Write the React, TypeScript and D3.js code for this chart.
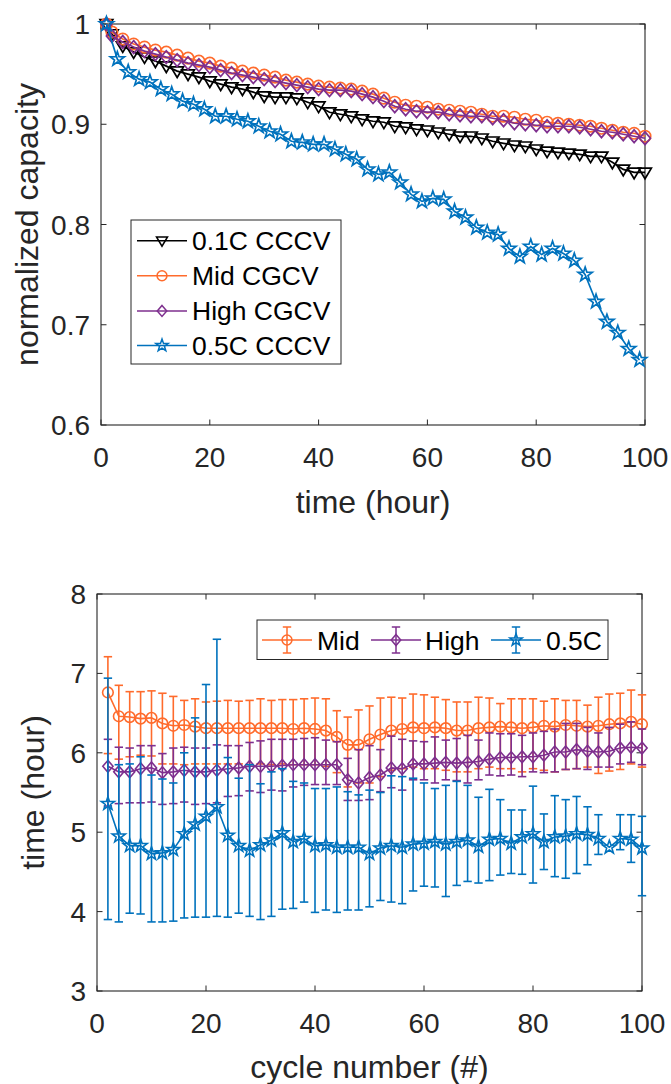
import React from 'react';
import * as d3 from 'd3';

// ---------------- Top chart data ----------------
const hoursA = [1, 2, 4, 6, 8, 10, 12, 14, 16, 18, 20, 22, 24, 26, 28, 30, 32, 34, 36, 38, 40, 42, 44, 46, 48, 50,
  52, 54, 56, 58, 60, 62, 64, 66, 68, 70, 72, 74, 76, 78, 80, 82, 84, 86, 88, 90, 92, 94, 96, 98, 100];
const cap01C = [1.0, 0.990, 0.978, 0.972, 0.967, 0.963, 0.958, 0.953, 0.950, 0.947, 0.943, 0.940, 0.937, 0.935, 0.932,
  0.928, 0.927, 0.927, 0.926, 0.922, 0.918, 0.912, 0.910, 0.908, 0.905, 0.903, 0.902, 0.898, 0.897, 0.895, 0.894,
  0.892, 0.890, 0.888, 0.888, 0.886, 0.883, 0.881, 0.879, 0.878, 0.875, 0.873, 0.872, 0.871, 0.870, 0.868, 0.868,
  0.862, 0.855, 0.852, 0.852];
const capMid = [1.0, 0.992, 0.985, 0.980, 0.977, 0.974, 0.972, 0.969, 0.966, 0.963, 0.961, 0.958, 0.956, 0.953, 0.951,
  0.949, 0.947, 0.944, 0.942, 0.940, 0.938, 0.937, 0.936, 0.935, 0.933, 0.930, 0.926, 0.922, 0.919, 0.918, 0.917,
  0.915, 0.914, 0.913, 0.912, 0.910, 0.908, 0.908, 0.907, 0.905, 0.904, 0.902, 0.901, 0.900, 0.899, 0.898, 0.896,
  0.894, 0.892, 0.891, 0.888];
const capHigh = [1.0, 0.988, 0.982, 0.977, 0.973, 0.970, 0.967, 0.964, 0.961, 0.959, 0.957, 0.954, 0.951, 0.949, 0.947,
  0.945, 0.943, 0.941, 0.939, 0.937, 0.935, 0.934, 0.934, 0.933, 0.930, 0.927, 0.923, 0.918, 0.915, 0.913, 0.912,
  0.912, 0.910, 0.909, 0.908, 0.908, 0.906, 0.904, 0.901, 0.900, 0.899, 0.898, 0.898, 0.898, 0.897, 0.895, 0.893,
  0.892, 0.890, 0.888, 0.886];
const hoursB = [1, 3, 5, 7, 9, 11, 13, 15, 17, 19, 21, 23, 25, 27, 29, 31, 33, 35, 37, 39, 41, 43, 45, 47, 49,
  51, 53, 55, 57, 59, 61, 63, 65, 67, 69, 71, 73, 75, 77, 79, 81, 83, 85, 87, 89, 91, 93, 95, 97, 99];
const cap05C = [1.0, 0.965, 0.952, 0.945, 0.942, 0.935, 0.930, 0.923, 0.920, 0.915, 0.908, 0.908, 0.905, 0.903, 0.898,
  0.893, 0.890, 0.883, 0.882, 0.880, 0.880, 0.875, 0.870, 0.865, 0.855, 0.850, 0.852, 0.842, 0.830, 0.823, 0.826,
  0.825, 0.813, 0.807, 0.797, 0.792, 0.790, 0.776, 0.768, 0.778, 0.770, 0.776, 0.771, 0.764, 0.750, 0.723, 0.703,
  0.692, 0.676, 0.665];
const topYTicks = [0.6, 0.7, 0.8, 0.9, 1];
const xTicks = [0, 20, 40, 60, 80, 100];
const topLegend = ['0.1C CCCV', 'Mid CGCV', 'High CGCV', '0.5C CCCV'];

// ---------------- Bottom chart data ----------------
const cycles = [2, 4, 6, 8, 10, 12, 14, 16, 18, 20, 22, 24, 26, 28, 30, 32, 34, 36, 38, 40, 42, 44, 46, 48, 50,
  52, 54, 56, 58, 60, 62, 64, 66, 68, 70, 72, 74, 76, 78, 80, 82, 84, 86, 88, 90, 92, 94, 96, 98, 100];
const midMean = [6.76, 6.46, 6.45, 6.43, 6.44, 6.37, 6.34, 6.35, 6.33, 6.31, 6.31, 6.31, 6.31, 6.31, 6.31, 6.31, 6.31,
  6.30, 6.31, 6.30, 6.28, 6.20, 6.10, 6.10, 6.17, 6.23, 6.28, 6.30, 6.32, 6.31, 6.32, 6.31, 6.28, 6.28, 6.31, 6.32,
  6.33, 6.32, 6.31, 6.32, 6.34, 6.33, 6.35, 6.34, 6.33, 6.34, 6.36, 6.37, 6.39, 6.36];
const midUpper = [7.21, 6.85, 6.77, 6.77, 6.78, 6.75, 6.71, 6.66, 6.68, 6.64, 6.65, 6.66, 6.65, 6.66, 6.68, 6.66, 6.67,
  6.67, 6.68, 6.69, 6.68, 6.53, 6.45, 6.54, 6.59, 6.69, 6.70, 6.69, 6.74, 6.73, 6.70, 6.67, 6.64, 6.64, 6.70, 6.69,
  6.62, 6.68, 6.68, 6.68, 6.65, 6.68, 6.66, 6.66, 6.60, 6.70, 6.74, 6.75, 6.79, 6.73];
const midLower = [5.99, 5.92, 5.95, 5.97, 5.96, 5.86, 5.86, 5.85, 5.86, 5.86, 5.86, 5.86, 5.86, 5.85, 5.86, 5.85, 5.86,
  5.85, 5.85, 5.85, 5.83, 5.75, 5.57, 5.62, 5.62, 5.70, 5.78, 5.80, 5.82, 5.80, 5.80, 5.78, 5.76, 5.76, 5.80, 5.82,
  5.80, 5.80, 5.76, 5.80, 5.78, 5.76, 5.79, 5.80, 5.82, 5.74, 5.77, 5.79, 5.86, 5.82];
const highMean = [5.83, 5.76, 5.76, 5.80, 5.81, 5.75, 5.76, 5.78, 5.76, 5.76, 5.78, 5.80, 5.81, 5.83, 5.83, 5.83, 5.84,
  5.85, 5.85, 5.85, 5.85, 5.85, 5.66, 5.62, 5.69, 5.72, 5.81, 5.80, 5.86, 5.86, 5.87, 5.88, 5.87, 5.88, 5.89, 5.92,
  5.94, 5.94, 5.95, 5.95, 5.97, 6.01, 6.01, 6.04, 6.02, 6.01, 6.02, 6.06, 6.07, 6.06];
const highUpper = [6.17, 6.07, 6.06, 6.09, 6.09, 5.99, 6.06, 6.07, 6.06, 6.06, 6.10, 6.09, 6.09, 6.13, 6.15, 6.17, 6.17,
  6.17, 6.18, 6.19, 6.16, 6.14, 5.93, 6.04, 6.09, 6.04, 6.21, 6.17, 6.15, 6.14, 6.20, 6.16, 6.18, 6.22, 6.16, 6.25,
  6.24, 6.24, 6.22, 6.25, 6.27, 6.30, 6.37, 6.37, 6.32, 6.25, 6.32, 6.36, 6.39, 6.30];
const highLower = [5.33, 5.36, 5.37, 5.37, 5.38, 5.35, 5.36, 5.38, 5.35, 5.36, 5.37, 5.45, 5.46, 5.52, 5.50, 5.53, 5.52,
  5.57, 5.59, 5.60, 5.60, 5.60, 5.40, 5.40, 5.41, 5.51, 5.56, 5.53, 5.66, 5.66, 5.62, 5.66, 5.65, 5.62, 5.66, 5.72,
  5.71, 5.72, 5.70, 5.76, 5.75, 5.76, 5.79, 5.80, 5.79, 5.82, 5.82, 5.86, 5.88, 5.85];
const c05Mean = [5.36, 4.95, 4.83, 4.83, 4.73, 4.74, 4.78, 4.98, 5.10, 5.20, 5.32, 4.96, 4.83, 4.77, 4.84, 4.90, 4.99,
  4.88, 4.92, 4.83, 4.84, 4.81, 4.81, 4.81, 4.73, 4.80, 4.83, 4.81, 4.85, 4.86, 4.88, 4.85, 4.88, 4.90, 4.82, 4.91,
  4.92, 4.86, 4.94, 4.98, 4.88, 4.94, 4.95, 4.98, 4.97, 4.92, 4.81, 4.92, 4.91, 4.80];
const c05Upper = [6.94, 5.85, 5.86, 5.95, 5.72, 5.67, 5.62, 6.00, 6.44, 6.86, 7.43, 5.94, 5.68, 5.85, 5.61, 5.76, 5.80,
  5.64, 5.62, 5.55, 5.55, 5.57, 5.51, 5.47, 5.53, 5.50, 5.71, 5.70, 5.68, 5.62, 5.55, 5.59, 5.64, 5.59, 5.44, 5.54,
  5.41, 5.28, 5.28, 5.58, 5.23, 5.46, 5.41, 5.45, 5.32, 5.22, 4.81, 5.22, 5.22, 5.20];
const c05Lower = [3.90, 3.87, 3.98, 3.97, 3.87, 3.87, 3.88, 3.92, 3.93, 3.93, 3.94, 3.93, 3.98, 3.94, 3.90, 3.94, 4.03,
  4.04, 4.12, 3.99, 4.02, 3.99, 4.02, 4.02, 4.06, 4.14, 4.12, 4.10, 4.26, 4.32, 4.31, 4.19, 4.33, 4.38, 4.36, 4.39,
  4.46, 4.48, 4.47, 4.36, 4.53, 4.44, 4.42, 4.48, 4.59, 4.72, 4.81, 4.78, 4.62, 4.20];
const bottomYTicks = [3, 4, 5, 6, 7, 8];
const bottomLegend = ['Mid', 'High', '0.5C'];

// ---------------- Style ----------------
const FONT = '"Liberation Sans", Arial, Helvetica, sans-serif';
const AX = '#262626';
const C_BLACK = '#000000';
const C_ORANGE = '#FF6B2C';
const C_PURPLE = '#7E2F8E';
const C_BLUE = '#0072BD';

type MarkerKind = 'tri' | 'circle' | 'diamond' | 'star';

function markerPath(kind: MarkerKind, cx: number, cy: number, s: number): string {
  const p = d3.path();
  if (kind === 'circle') {
    const r = 5.2 * s;
    p.moveTo(cx + r, cy);
    p.arc(cx, cy, r, 0, Math.PI * 2);
    p.closePath();
  } else if (kind === 'tri') {
    p.moveTo(cx - 5.8 * s, cy - 3.9 * s);
    p.lineTo(cx + 5.8 * s, cy - 3.9 * s);
    p.lineTo(cx, cy + 5.8 * s);
    p.closePath();
  } else if (kind === 'diamond') {
    p.moveTo(cx, cy - 5.8 * s);
    p.lineTo(cx + 5.0 * s, cy);
    p.lineTo(cx, cy + 5.8 * s);
    p.lineTo(cx - 5.0 * s, cy);
    p.closePath();
  } else {
    const ro = 6.8 * s;
    const ri = 2.7 * s;
    for (let i = 0; i < 10; i++) {
      const r = i % 2 === 0 ? ro : ri;
      const a = -Math.PI / 2 + (i * Math.PI) / 5;
      const x = cx + r * Math.cos(a);
      const y = cy + r * Math.sin(a);
      if (i === 0) p.moveTo(x, y);
      else p.lineTo(x, y);
    }
    p.closePath();
  }
  return p.toString();
}

interface Frame {
  x0: number; x1: number; y0: number; y1: number;
}

function AxesFrame({ f, xs, ys, xt, yt, yFmt }: {
  f: Frame; xs: d3.ScaleLinear<number, number>; ys: d3.ScaleLinear<number, number>;
  xt: number[]; yt: number[]; yFmt: (v: number) => string;
}) {
  const tl = 5.5;
  return (
    <g>
      <rect x={f.x0} y={f.y0} width={f.x1 - f.x0} height={f.y1 - f.y0} fill="none" stroke={AX} strokeWidth={1.1} />
      {xt.map((t) => (
        <g key={'xt' + t}>
          <line x1={xs(t)} x2={xs(t)} y1={f.y1} y2={f.y1 - tl} stroke={AX} strokeWidth={1} />
          <line x1={xs(t)} x2={xs(t)} y1={f.y0} y2={f.y0 + tl} stroke={AX} strokeWidth={1} />
          <text x={xs(t)} y={f.y1 + 42} textAnchor="middle" fontSize={28} fontFamily={FONT} fill={AX}>{t}</text>
        </g>
      ))}
      {yt.map((t) => (
        <g key={'yt' + t}>
          <line x1={f.x0} x2={f.x0 + tl} y1={ys(t)} y2={ys(t)} stroke={AX} strokeWidth={1} />
          <line x1={f.x1} x2={f.x1 - tl} y1={ys(t)} y2={ys(t)} stroke={AX} strokeWidth={1} />
          <text x={f.x0 - 11} y={ys(t) + 10} textAnchor="end" fontSize={28} fontFamily={FONT} fill={AX}>{yFmt(t)}</text>
        </g>
      ))}
    </g>
  );
}

function TopChart() {
  const f: Frame = { x0: 101, x1: 645, y0: 24, y1: 425 };
  const xs = d3.scaleLinear().domain([0, 100]).range([f.x0, f.x1]);
  const ys = d3.scaleLinear().domain([0.6, 1]).range([f.y1, f.y0]);
  const line = d3.line<[number, number]>().x((d) => xs(d[0])).y((d) => ys(d[1]));
  const series: { xs: number[]; ys: number[]; color: string; kind: MarkerKind }[] = [
    { xs: hoursA, ys: cap01C, color: C_BLACK, kind: 'tri' },
    { xs: hoursA, ys: capMid, color: C_ORANGE, kind: 'circle' },
    { xs: hoursA, ys: capHigh, color: C_PURPLE, kind: 'diamond' },
    { xs: hoursB, ys: cap05C, color: C_BLUE, kind: 'star' },
  ];
  const fmt = (v: number) => (v === 1 ? '1' : d3.format('.1f')(v));
  const lg = { x0: 131, y0: 220, w: 210, h: 144 };
  const rowY = [240.7, 275.8, 310.9, 345.5];
  const ms = 1.1;
  return (
    <g>
      <AxesFrame f={f} xs={xs} ys={ys} xt={xTicks} yt={topYTicks} yFmt={fmt} />
      {series.map((s, i) => {
        const pts = s.xs.map((x, j) => [x, s.ys[j]] as [number, number]);
        return (
          <g key={'s' + i}>
            <path d={line(pts) || ''} fill="none" stroke={s.color} strokeWidth={1.7} />
            {pts.map((p, j) => (
              <path key={j} d={markerPath(s.kind, xs(p[0]), ys(p[1]), ms)} fill="none" stroke={s.color} strokeWidth={1.7} />
            ))}
          </g>
        );
      })}
      <text x={373} y={513} textAnchor="middle" fontSize={32} fontFamily={FONT} fill={AX}>time (hour)</text>
      <text transform={`translate(38,${(f.y0 + f.y1) / 2}) rotate(-90)`} textAnchor="middle" fontSize={32} fontFamily={FONT} fill={AX}>normalized capacity</text>
      <rect x={lg.x0} y={lg.y0} width={lg.w} height={lg.h} fill="#fff" stroke={AX} strokeWidth={1} />
      {series.map((s, i) => (
        <g key={'lg' + i}>
          <line x1={137} x2={187} y1={rowY[i]} y2={rowY[i]} stroke={s.color} strokeWidth={1.5} />
          <path d={markerPath(s.kind, 162, rowY[i], 0.95)} fill="none" stroke={s.color} strokeWidth={1.5} />
          <text x={192} y={rowY[i] + 9.5} fontSize={26.5} fontFamily={FONT} fill="#000">{topLegend[i]}</text>
        </g>
      ))}
    </g>
  );
}

function BottomChart() {
  const f: Frame = { x0: 97, x1: 642, y0: 594, y1: 991 };
  const xs = d3.scaleLinear().domain([0, 100]).range([f.x0, f.x1]);
  const ys = d3.scaleLinear().domain([3, 8]).range([f.y1, f.y0]);
  const line = d3.line<[number, number]>().x((d) => xs(d[0])).y((d) => ys(d[1]));
  const series: { m: number[]; u: number[]; l: number[]; color: string; kind: MarkerKind }[] = [
    { m: midMean, u: midUpper, l: midLower, color: C_ORANGE, kind: 'circle' },
    { m: highMean, u: highUpper, l: highLower, color: C_PURPLE, kind: 'diamond' },
    { m: c05Mean, u: c05Upper, l: c05Lower, color: C_BLUE, kind: 'star' },
  ];
  const cw = 4.2;
  const legendItems = [
    { lx0: 262, lx1: 312, tx: 317 },
    { lx0: 371, lx1: 421, tx: 425 },
    { lx0: 491, lx1: 541, tx: 546 },
  ];
  const ly = 640;
  const ms = 1.02;
  return (
    <g>
      <AxesFrame f={f} xs={xs} ys={ys} xt={xTicks} yt={bottomYTicks} yFmt={(v) => String(v)} />
      {series.map((s, i) => {
        const pts = cycles.map((c, j) => [c, s.m[j]] as [number, number]);
        return (
          <g key={'b' + i}>
            {cycles.map((c, j) => {
              if (Math.abs(s.u[j] - s.l[j]) < 1e-6) return null;
              const x = xs(c);
              const yu = ys(s.u[j]);
              const yl = ys(s.l[j]);
              return (
                <g key={'e' + j}>
                  <line x1={x} x2={x} y1={yu} y2={yl} stroke={s.color} strokeWidth={1.6} />
                  <line x1={x - cw} x2={x + cw} y1={yu} y2={yu} stroke={s.color} strokeWidth={1.6} />
                  <line x1={x - cw} x2={x + cw} y1={yl} y2={yl} stroke={s.color} strokeWidth={1.6} />
                </g>
              );
            })}
            <path d={line(pts) || ''} fill="none" stroke={s.color} strokeWidth={1.6} />
            {pts.map((p, j) => (
              <path key={j} d={markerPath(s.kind, xs(p[0]), ys(p[1]), ms)} fill="none" stroke={s.color} strokeWidth={1.6} />
            ))}
          </g>
        );
      })}
      <text x={369.5} y={1078} textAnchor="middle" fontSize={32} fontFamily={FONT} fill={AX}>cycle number (#)</text>
      <text transform={`translate(44,${(f.y0 + f.y1) / 2}) rotate(-90)`} textAnchor="middle" fontSize={32} fontFamily={FONT} fill={AX}>time (hour)</text>
      <rect x={257} y={620} width={351} height={39.5} fill="#fff" stroke={AX} strokeWidth={1} />
      {series.map((s, i) => {
        const it = legendItems[i];
        const cx = (it.lx0 + it.lx1) / 2;
        return (
          <g key={'bl' + i}>
            <line x1={it.lx0} x2={it.lx1} y1={ly} y2={ly} stroke={s.color} strokeWidth={1.5} />
            <line x1={cx} x2={cx} y1={ly - 13} y2={ly + 13} stroke={s.color} strokeWidth={1.5} />
            <line x1={cx - cw} x2={cx + cw} y1={ly - 13} y2={ly - 13} stroke={s.color} strokeWidth={1.5} />
            <line x1={cx - cw} x2={cx + cw} y1={ly + 13} y2={ly + 13} stroke={s.color} strokeWidth={1.5} />
            <path d={markerPath(s.kind, cx, ly, 0.95)} fill="none" stroke={s.color} strokeWidth={1.5} />
            <text x={it.tx} y={ly + 9.5} fontSize={26.5} fontFamily={FONT} fill="#000">{bottomLegend[i]}</text>
          </g>
        );
      })}
    </g>
  );
}

export default function App() {
  return (
    <svg width={671} height={1084} viewBox="0 0 671 1084" style={{ position: 'absolute', left: 0, top: 0, background: '#fff' }}>
      <rect x={0} y={0} width={671} height={1084} fill="#fff" />
      <TopChart />
      <BottomChart />
    </svg>
  );
}
